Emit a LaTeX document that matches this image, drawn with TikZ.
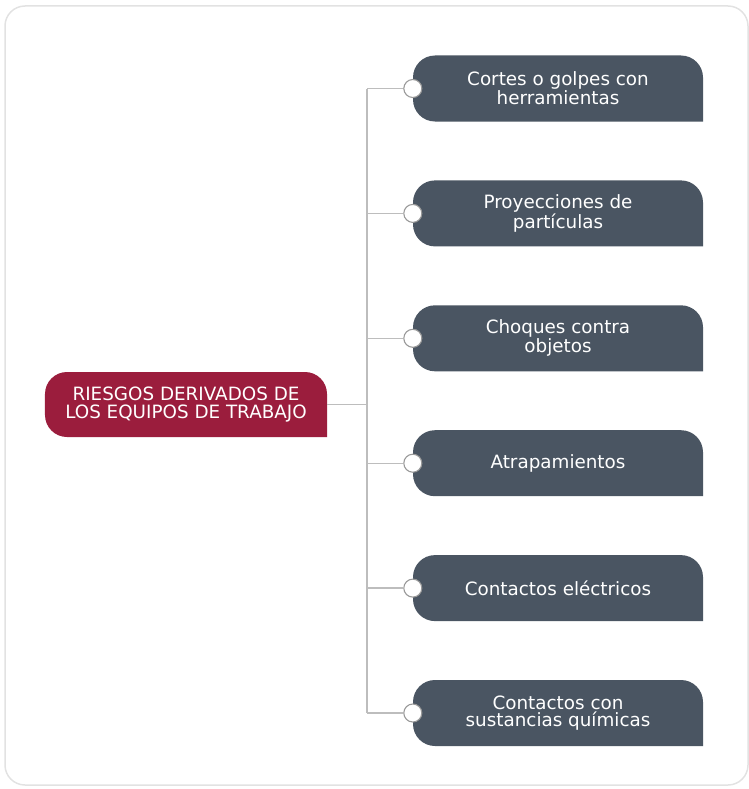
\documentclass[tikz,border=0pt]{standalone}
\usepackage{fontspec}
\setmainfont{DejaVu Sans}
\usetikzlibrary{positioning}

\definecolor{pizarra}{HTML}{4A5562}
\definecolor{granate}{HTML}{9B1D3D}
\definecolor{gristrazo}{HTML}{BDBDBD}
\definecolor{grismarco}{HTML}{E2E2E2}

\begin{document}
\begin{tikzpicture}
		[
		x=1bp,y=-1bp,
		forma/.style={
		minimum width=290bp,
		minimum height=66bp,
		inner sep=0pt,
		align=center,
		text=white,
		fill=white,
		font=\fontsize{18.4}{17.5}\selectfont,
		path picture={\fill[#1,rounded corners=22bp]
			(path picture bounding box.south east) -- (path picture bounding box.north east)
			-- (path picture bounding box.north west) -- (path picture bounding box.south west)
			-- (path picture bounding box.south east);}},
		punto/.style={circle,draw=gray!80,fill=white,line width=1.1bp,minimum size=18bp,inner sep=0pt},
		rama/.style={draw=gristrazo,line width=1.4bp}
		]
		\useasboundingbox (0,0) rectangle (749,789);
		\draw[grismarco,line width=1.5bp,rounded corners=20bp] (5,6) rectangle (748,785);
		% tema principal
		\node[forma=granate,minimum width=282bp,minimum height=65bp,font=\fontsize{18.4}{18.5}\selectfont](riesgos) at (186,404.5) {RIESGOS DERIVADOS DE\\LOS EQUIPOS DE TRABAJO};
		\coordinate (cruce) at (367,404.5);
		% ramas
		\foreach \texto [count=\i] in {{Cortes o golpes con\\herramientas},{Proyecciones de\\partículas},{Choques contra\\objetos},{Atrapamientos},{Contactos eléctricos},{Contactos con\\sustancias químicas}}
		{
		\node[forma=pizarra](h\i) at (558,{88.5+124.9*(\i-1)}) {\texto};
		\node[punto](p\i) at (h\i.west) {};
		\draw[rama] (cruce |- p\i) -- (p\i);
		}
		\draw[rama] (cruce |- p1) -- (cruce |- p6);
		\draw[rama] (riesgos.east) -- (cruce);
		\end{tikzpicture}
\end{document}
